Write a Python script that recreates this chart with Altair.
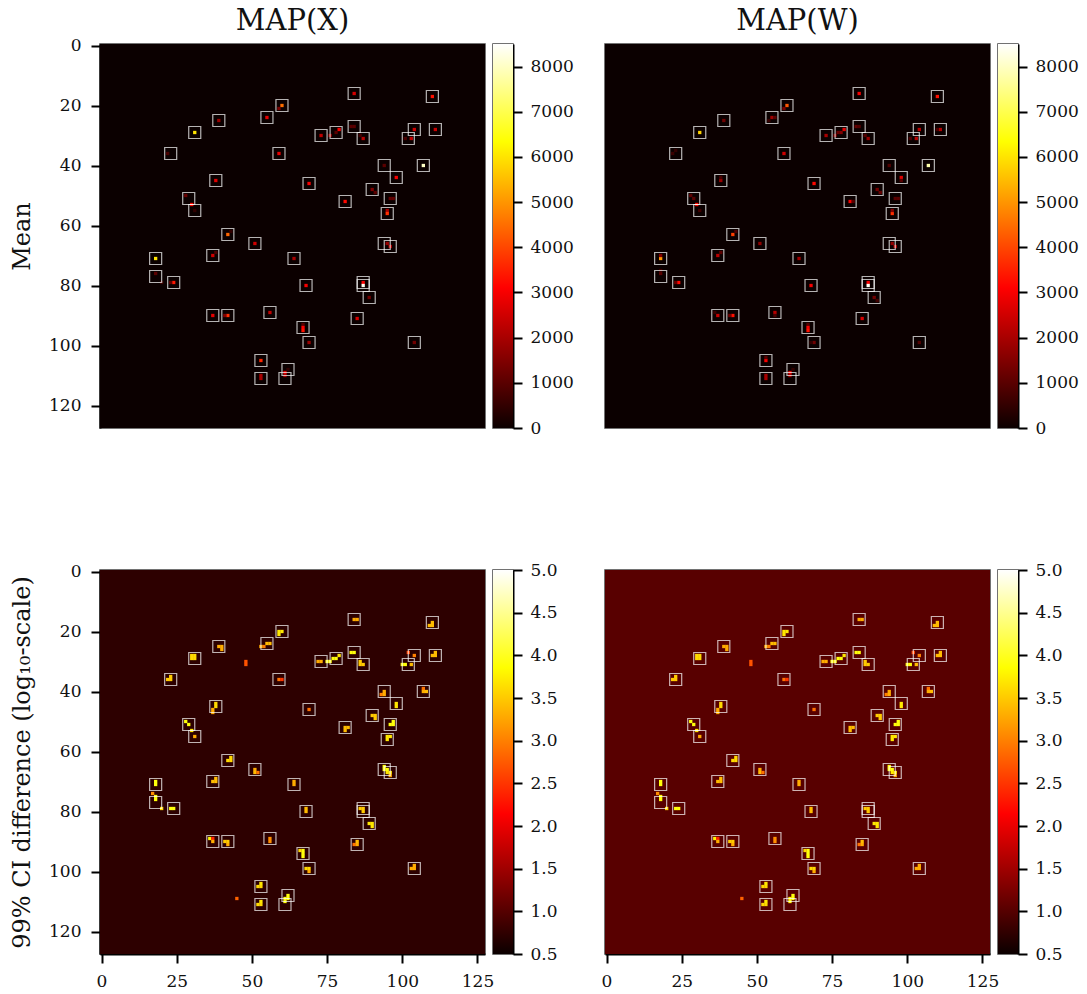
import altair as alt
import pandas as pd

alt.data_transformers.disable_max_rows()

FONT = "DejaVu Serif"
HOT_STOPS = [0.0, 0.365, 0.746, 1.0]
HOT_COLORS = ["#0b0000", "#ff0000", "#ffff00", "#ffffff"]

boxes = [(84,16),(110,17),(60,20),(55,24),(39,25),(84,27),(104,28),(111,28),(31,29),
         (78,29),(73,30),(87,31),(102,31),(59,36),(23,36),(94,40),(107,40),(98,44),(38,45),
         (69,46),(90,48),(29,51),(96,51),(81,52),(31,55),(95,56),(42,63),(51,66),(94,66),
         (96,67),(37,70),(64,71),(18,71),(18,77),(24,79),(68,80),(87,79),(87,80),(89,84),
         (37,90),(42,90),(56,89),(85,91),(67,94),(69,99),(104,99),(53,105),(62,108),(53,111),(61,111)]

mean_x_cells = [
    (60,20,4500),(59,21,1400),(55,24,2800),(39,25,1800),(31,29,6000),(73,30,2300),(76,30,1800),
    (22,36,800),(59,36,2800),(38,45,2700),(69,46,3000),(28,50,1200),(30,53,3200),(31,55,500),
    (42,63,4400),(43,62,500),(51,66,2500),(84,16,2600),(110,17,3300),(79,28,3000),(78,29,1000),
    (84,27,1000),(83,27,1000),(87,31,2200),(86,30,700),(104,28,2500),(111,28,2400),(103,31,2300),
    (101,31,800),(94,40,1000),(107,40,8000),(98,44,3000),(90,48,1500),(91,49,1000),(81,52,3200),
    (96,51,1100),(97,51,1100),(95,55,2000),(95,56,3700),(95,66,1800),(96,67,2200),(18,71,6000),
    (18,76,1000),(20,79,600),(24,79,3400),(23,79,1000),(37,70,2500),(38,69,800),(64,71,2000),
    (68,80,3000),(87,79,3000),(87,80,8400),(89,84,1300),(85,91,2600),(37,90,2800),(42,90,3700),
    (41,90,1500),(56,89,2300),(67,93,1000),(67,94,3100),(67,95,3300),(69,99,1800),(104,99,1300),
    (53,105,3600),(53,110,2000),(53,111,2000),(62,108,500),(61,109,2800),(61,110,2000),
]
mean_w_cells = [
    (84,16,3000),(110,17,3300),(60,20,4200),(59,21,1400),(55,24,1900),(56,24,1000),(54,25,600),
    (39,25,1300),(79,28,2800),(78,29,1500),(77,29,1200),(76,30,1500),(73,30,2000),(31,29,5800),
    (83,27,1100),(84,27,900),(87,31,1800),(86,30,900),(104,28,2200),(111,28,2100),(110,28,800),
    (103,31,2200),(101,31,800),(59,36,2500),(22,36,600),(23,35,500),(94,40,900),(107,40,7800),
    (98,44,2700),(98,45,1000),(69,46,3200),(38,45,1800),(38,44,800),(90,48,1300),(91,49,1200),
    (81,52,3000),(82,52,1000),(96,51,1000),(97,51,1000),(95,56,3700),(95,55,1500),(28,50,1000),
    (29,51,1000),(30,53,3200),(31,55,700),(42,63,3900),(43,62,800),(51,66,1700),(37,70,2200),
    (38,69,1000),(64,71,1900),(95,66,1700),(96,67,2200),(18,71,5000),(18,70,1500),(18,76,1000),
    (18,75,600),(24,79,3200),(23,79,1200),(53,105,3000),(53,104,1000),(68,80,3000),(87,79,3000),
    (87,80,8400),(89,84,1300),(90,85,700),(85,91,2600),(37,90,2400),(36,89,600),(42,90,3300),
    (41,90,1300),(56,89,2200),(56,90,800),(67,93,1000),(67,94,3000),(67,95,3300),(69,99,1300),
    (68,99,500),(104,99,900),(53,110,2000),(53,111,2000),(62,108,500),(61,109,2800),(61,110,2000),
]
ci_cells = [
    (59,20,3.7),(60,20,3.7),(59,21,3.7),(55,24,3.4),(56,24,3.4),(54,25,3.0),(53,25,3.3),
    (39,25,3.3),(40,25,3.3),(40,26,3.3),(30,28,3.6),(31,28,3.6),(30,29,3.6),(31,29,3.6),
    (48,30,2.7),(48,31,2.7),(22,36,3.5),(23,36,3.5),(23,35,3.5),(59,36,2.9),(60,36,2.5),
    (38,44,3.6),(38,45,3.6),(37,46,3.3),(37,47,3.3),(28,50,3.9),(29,51,3.9),(30,53,3.7),
    (31,55,3.3),(69,46,2.9),(18,70,3.9),(18,71,3.9),(17,74,3.1),(18,75,3.9),(18,76,3.9),
    (20,79,3.6),(23,79,3.9),(24,79,3.9),(37,70,3.4),(38,70,3.4),(38,69,3.4),(51,66,3.3),
    (51,67,3.4),(52,67,2.9),(42,63,3.6),(43,63,3.6),(43,62,3.6),(64,70,3.3),(64,71,3.3),
    (68,79,3.4),(68,80,3.4),(36,89,3.8),
    (37,89,2.4),(37,90,3.3),(41,90,3.5),(42,90,3.5),(42,91,3.3),(56,89,3.1),(56,90,3.1),
    (67,93,3.9),(67,94,3.9),(67,95,3.9),(66,93,3.6),(68,99,3.6),(69,99,3.6),(69,100,3.3),
    (52,105,3.6),(53,105,3.6),(53,104,3.7),(52,111,3.6),(53,111,3.6),(53,110,3.7),
    (62,108,3.9),(62,109,3.9),(61,109,3.9),(61,110,3.9),(45,109,2.8),
    (84,16,3.3),(85,16,3.3),(109,18,3.4),(110,18,3.4),(110,17,3.4),(83,27,3.9),(84,27,3.9),
    (77,29,3.9),(78,29,3.9),(79,28,3.7),(75,30,3.95),(76,30,3.95),(73,30,3.3),(72,30,3.3),
    (86,30,3.5),(86,31,3.5),(87,31,3.5),(102,27,2.6),(104,28,3.0),(100,31,3.9),(101,31,3.9),
    (103,31,3.4),(110,28,3.4),(111,28,3.4),(111,27,3.4),(93,41,3.0),(94,41,3.3),(94,40,3.3),
    (107,39,2.9),(107,40,3.3),(108,40,3.4),(98,44,3.7),(98,45,3.7),(90,48,3.5),(91,48,3.5),
    (91,49,3.5),(96,51,3.9),(97,51,3.9),(97,50,3.9),(81,52,3.4),(82,52,3.4),(81,53,3.4),
    (95,55,3.7),(96,55,3.7),(95,56,3.7),(94,65,3.9),(94,66,3.9),(95,66,3.9),(95,67,3.7),
    (96,67,3.7),(96,68,3.3),(86,79,3.5),(87,79,3.5),(87,80,3.5),(89,84,3.7),(90,84,3.7),
    (90,85,3.7),(84,91,2.9),(85,91,3.3),(85,90,3.4),(103,99,3.3),(104,99,3.3),(104,98,3.3),
]

top_ticks = [0, 1000, 2000, 3000, 4000, 5000, 6000, 7000, 8000]
bottom_ticks = [0.5, 1.0, 1.5, 2.0, 2.5, 3.0, 3.5, 4.0, 4.5, 5.0]
x_ticks = [0, 25, 50, 75, 100, 125]
y_ticks = [0, 20, 40, 60, 80, 100, 120]

W, H = 385, 384
CB_W = 20
HALF = 0.55
X_SCALE = alt.Scale(domain=[-0.5, 127.5], nice=False, zero=False)
Y_SCALE = alt.Scale(domain=[127.5, -0.5], nice=False, zero=False)


def color_scale(lo, hi):
    return alt.Scale(
        domain=[lo + s * (hi - lo) for s in HOT_STOPS],
        range=HOT_COLORS, clamp=True, interpolate="rgb",
    )


def image_panel(cells, bg, lo, hi, title=None, show_x=False, show_y=False, ytitle=None):
    rows = [dict(x0=-0.5, x1=127.5, y0=-0.5, y1=127.5, v=bg)]
    rows += [dict(x0=x - HALF, x1=x + HALF, y0=y - HALF, y1=y + HALF, v=v) for x, y, v in cells]
    box_rows = [dict(x0=x - 2, x1=x + 2, y0=y - 2, y1=y + 2) for x, y in boxes]
    x_axis = alt.Axis(values=x_ticks, title=None, labelFlush=False, labelOverlap=False) if show_x else None
    if show_y:
        y_axis = alt.Axis(values=y_ticks, title=ytitle, labelOverlap=False, titlePadding=14)
    else:
        y_axis = None
    x = alt.X("x0:Q", scale=X_SCALE, axis=x_axis)
    y = alt.Y("y0:Q", scale=Y_SCALE, axis=y_axis)
    img = alt.Chart(pd.DataFrame(rows)).mark_rect(stroke=None).encode(
        x=x, x2="x1:Q", y=y, y2="y1:Q",
        color=alt.Color("v:Q", scale=color_scale(lo, hi), legend=None),
    )
    rects = alt.Chart(pd.DataFrame(box_rows)).mark_rect(
        filled=False, stroke="#ffffff", strokeOpacity=0.7, strokeWidth=1.2
    ).encode(x=x, x2="x1:Q", y=y, y2="y1:Q")
    layers = [img, rects]
    if title:
        layers.append(alt.Chart(pd.DataFrame({"t": [title]})).mark_text(
            font=FONT, fontSize=29, color="#111111", baseline="middle", align="center"
        ).encode(text="t:N", x=alt.value(W / 2), y=alt.value(-23)))
    return alt.layer(*layers).properties(width=W, height=H)


def colorbar(lo, hi, ticks, fmt):
    grad = alt.LinearGradient(
        gradient="linear", x1=0, x2=0, y1=1, y2=0,
        stops=[alt.GradientStop(offset=s, color=c) for s, c in zip(HOT_STOPS, HOT_COLORS)],
    )
    return alt.Chart(pd.DataFrame([dict(a=lo, b=hi)])).mark_rect(color=grad).encode(
        x=alt.value(0), x2=alt.value(CB_W),
        y=alt.Y("a:Q", scale=alt.Scale(domain=[lo, hi], nice=False, zero=False),
                axis=alt.Axis(values=ticks, orient="right", title=None, format=fmt,
                              labelOverlap=False, labelFlush=False, labelPadding=8)),
        y2="b:Q",
    ).properties(width=CB_W, height=H)


def spacer():
    return alt.Chart(pd.DataFrame({"a": [0]})).mark_point(opacity=0).encode(
        x=alt.value(0), y=alt.value(0)
    ).properties(width=76, height=H, view=alt.ViewConfig(stroke=None))


panels = [
    image_panel(mean_x_cells, 0, 0, 8500, title="MAP(X)", show_y=True, ytitle="Mean"),
    colorbar(0, 8500, top_ticks, "d"),
    spacer(),
    image_panel(mean_w_cells, 0, 0, 8500, title="MAP(W)"),
    colorbar(0, 8500, top_ticks, "d"),
    image_panel(ci_cells, 0.73, 0.5, 5.0, show_x=True, show_y=True,
                ytitle="99% CI difference (log₁₀-scale)"),
    colorbar(0.5, 5.0, bottom_ticks, ".1f"),
    spacer(),
    image_panel(ci_cells, 1.02, 0.5, 5.0, show_x=True),
    colorbar(0.5, 5.0, bottom_ticks, ".1f"),
]

chart = alt.concat(*panels, columns=5, spacing={"row": 142, "column": 8}, bounds="flush").resolve_scale(
    color="independent"
).properties(
    padding={"left": 1, "top": -2, "right": -1, "bottom": 0},
    background="white",
).configure_view(stroke="#444444", strokeWidth=1.5).configure_axis(
    labelFont=FONT, labelFontSize=17, labelColor="#111111", titleFont=FONT, titleFontSize=24,
    titleFontWeight="normal", titleColor="#111111", tickSize=9, tickWidth=2, tickColor="#000000",
    domainColor="#000000", domainWidth=2, grid=False, labelPadding=10,
)

chart.save("out.html", embed_options={"renderer": "svg", "actions": False})
